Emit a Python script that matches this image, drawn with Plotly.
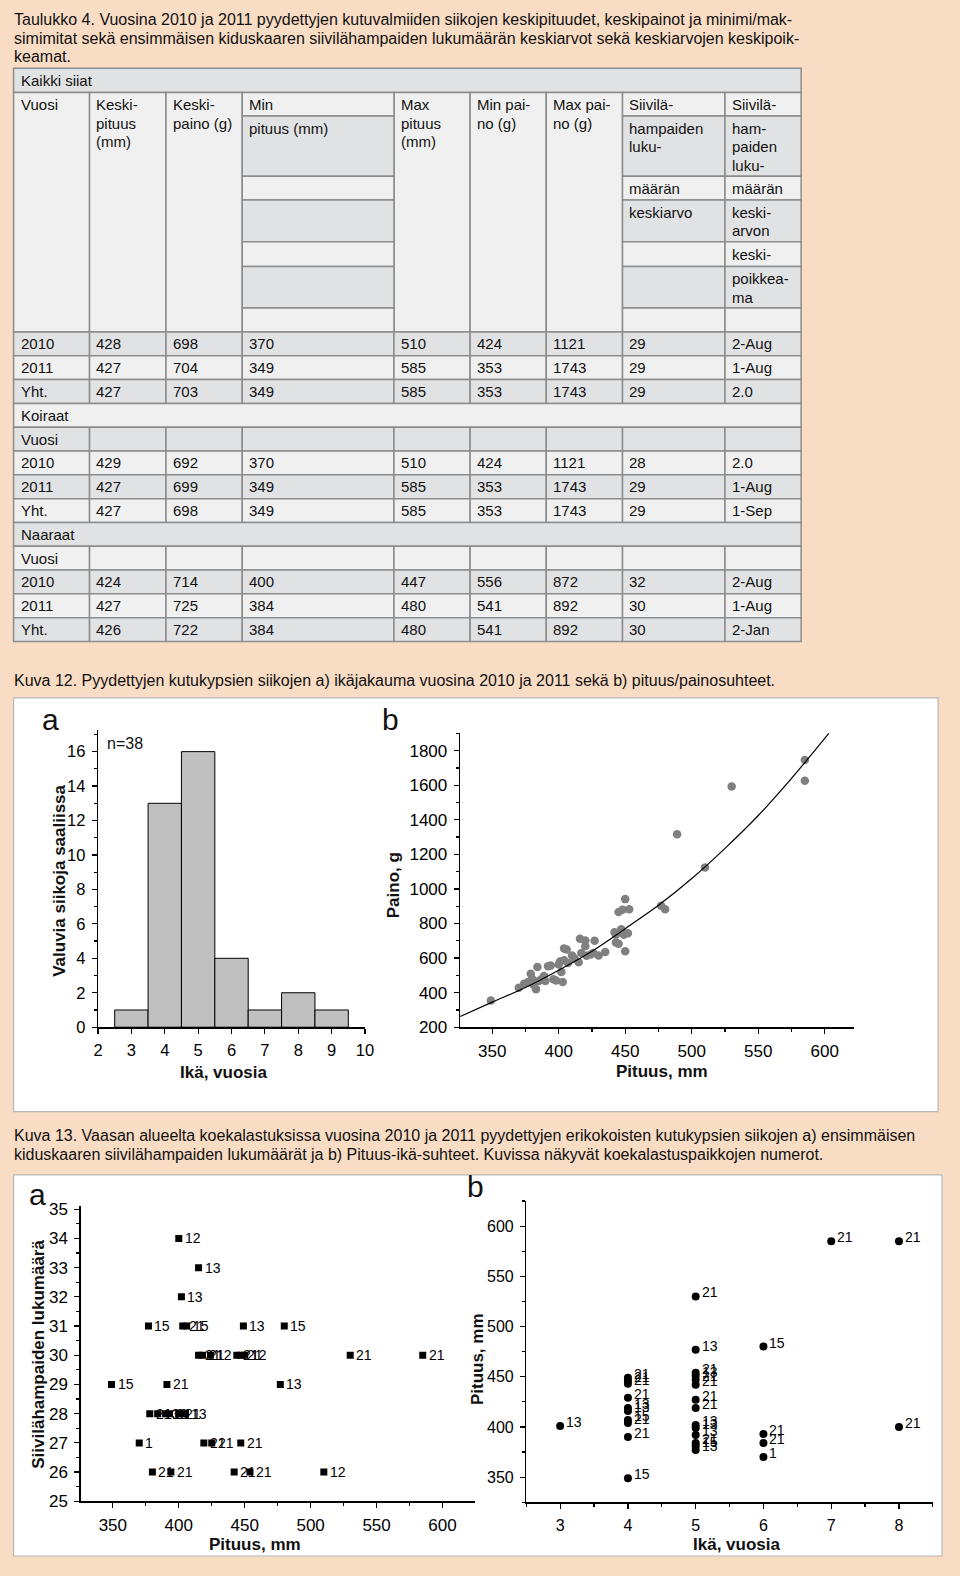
import plotly.graph_objects as go

PAGE_W, PAGE_H = 960, 1576
OFF = 8  # default body margin of the page
W, H = PAGE_W - 2 * OFF, PAGE_H - 2 * OFF
BG = "#f9dcc4"
FONT = "Liberation Sans, Arial, Helvetica, sans-serif"
TXT = "#111111"

# ---------------- data ----------------
caption_table = [
    "Taulukko 4. Vuosina 2010 ja 2011 pyydettyjen kutuvalmiiden siikojen keskipituudet, keskipainot ja minimi/mak-",
    "simimitat sekä ensimmäisen kiduskaaren siivilähampaiden lukumäärän keskiarvot sekä keskiarvojen keskipoik-",
    "keamat.",
]
caption_fig12 = ["Kuva 12. Pyydettyjen kutukypsien siikojen a) ikäjakauma vuosina 2010 ja 2011 sekä b) pituus/painosuhteet."]
caption_fig13 = [
    "Kuva 13. Vaasan alueelta koekalastuksissa vuosina 2010 ja 2011 pyydettyjen erikokoisten kutukypsien siikojen a) ensimmäisen",
    "kiduskaaren siivilähampaiden lukumäärät ja b) Pituus-ikä-suhteet. Kuvissa näkyvät koekalastuspaikkojen numerot.",
]

group_titles = ["Kaikki siiat", "Koiraat", "Naaraat"]
hdr_vuosi = ["Vuosi"]
hdr_keskipituus = ["Keski-", "pituus", "(mm)"]
hdr_keskipaino = ["Keski-", "paino (g)"]
hdr_min = [["Min"], ["pituus (mm)"], [], [], [], [], []]
hdr_max = ["Max", "pituus", "(mm)"]
hdr_minpaino = ["Min pai-", "no (g)"]
hdr_maxpaino = ["Max pai-", "no (g)"]
hdr_siivila1 = [["Siivilä-"], ["hampaiden", "luku-"], ["määrän"], ["keskiarvo"], [], [], []]
hdr_siivila2 = [["Siivilä-"], ["ham-", "paiden", "luku-"], ["määrän"], ["keski-", "arvon"], ["keski-"], ["poikkea-", "ma"], []]

kaikki_rows = [
    ["2010", "428", "698", "370", "510", "424", "1121", "29", "2-Aug"],
    ["2011", "427", "704", "349", "585", "353", "1743", "29", "1-Aug"],
    ["Yht.", "427", "703", "349", "585", "353", "1743", "29", "2.0"],
]
koiraat_rows = [
    ["2010", "429", "692", "370", "510", "424", "1121", "28", "2.0"],
    ["2011", "427", "699", "349", "585", "353", "1743", "29", "1-Aug"],
    ["Yht.", "427", "698", "349", "585", "353", "1743", "29", "1-Sep"],
]
naaraat_rows = [
    ["2010", "424", "714", "400", "447", "556", "872", "32", "2-Aug"],
    ["2011", "427", "725", "384", "480", "541", "892", "30", "1-Aug"],
    ["Yht.", "426", "722", "384", "480", "541", "892", "30", "2-Jan"],
]

# Kuva 12 a: age distribution
ika_12a = [3, 4, 5, 6, 7, 8, 9]
lkm_12a = [1, 13, 16, 4, 1, 2, 1]

# Kuva 12 b: length / weight
pituus_12b = [349, 370, 374, 377, 379, 380, 381, 383, 384, 385, 387, 389, 390, 392, 394, 396, 398,
              400, 401, 402, 403, 404, 404, 406, 407, 410, 412, 415, 416, 417, 420, 420, 421, 424,
              426, 427, 430, 435, 442, 443, 443, 445, 445, 447, 448, 449, 450, 450, 452, 453,
              477, 480, 489, 510, 530, 585, 585]
paino_12b = [355, 428, 452, 461, 509, 480, 446, 420, 548, 467, 477, 496, 467, 553, 557, 477, 470,
             563, 580, 519, 462, 588, 656, 649, 572, 615, 598, 576, 712, 630, 702, 668, 614, 620,
             629, 700, 615, 635, 750, 735, 690, 683, 866, 767, 880, 735, 941, 639, 744, 882,
             902, 882, 1317, 1124, 1592, 1746, 1626]
fit_x_12b = [326, 350, 375, 400, 425, 450, 475, 500, 525, 550, 575, 603]
fit_y_12b = [262, 345, 430, 530, 640, 770, 905, 1060, 1235, 1425, 1640, 1900]

# Kuva 13 a: length vs gill rakers, with site numbers
pituus_13a = [400, 415, 402,
              377, 403, 406, 449, 480,
              415, 418, 424, 444, 447, 450, 530, 585,
              349, 391, 477,
              378, 384, 390, 393, 400, 405,
              370, 419, 425, 447,
              380, 394, 442, 454, 510]
siivila_13a = [34, 33, 32,
               31, 31, 31, 31, 31,
               30, 30, 30, 30, 30, 30, 30, 30,
               29, 29, 29,
               28, 28, 28, 28, 28, 28,
               27, 27, 27, 27,
               26, 26, 26, 26, 26]
paikka_13a = ["12", "13", "13",
              "15", "21", "15", "13", "15",
              "21", "21", "12", "21", "21", "12", "21", "21",
              "15", "21", "13",
              "21", "13", "13", "21", "21", "13",
              "1", "21", "21", "21",
              "21", "21", "21", "21", "12"]

# Kuva 13 b: age vs length, with site numbers
ika_13b = [3,
           4, 4, 4, 4, 4, 4, 4, 4, 4, 4,
           5, 5, 5, 5, 5, 5, 5, 5, 5, 5, 5, 5, 5, 5,
           6, 6, 6, 6,
           7, 8, 8]
pituus_13b = [401,
              449, 446, 443, 429, 419, 416, 407, 404, 390, 349,
              530, 477, 454, 451, 447, 442, 427, 419, 402, 399, 392, 384, 381, 377,
              480, 393, 384, 370,
              585, 585, 400]
paikka_13b = ["13",
              "21", "21", "21", "21", "13", "13", "15", "21", "21", "15",
              "21", "13", "21", "13", "21", "21", "21", "21", "13", "13", "13", "21", "15", "13",
              "15", "21", "21", "1",
              "21", "21", "21"]

# ---------------- helpers (page pixels -> paper) ----------------
def X(p):
    return (p - OFF) / W


def Y(p):
    return 1 - (p - OFF) / H


shapes = []
annotations = []


def rect(x0, y0, x1, y1, fill, line="#8c8c8c", lw=1.5):
    shapes.append(dict(type="rect", xref="paper", yref="paper", x0=X(x0), x1=X(x1),
                       y0=Y(y1), y1=Y(y0), fillcolor=fill, line=dict(color=line, width=lw),
                       layer="below"))


def text(x, y, s, size=15, xanchor="left", angle=0, color=TXT, yanchor="middle"):
    annotations.append(dict(xref="paper", yref="paper", x=X(x), y=Y(y), text=s, showarrow=False,
                            xanchor=xanchor, yanchor=yanchor, textangle=angle,
                            font=dict(family=FONT, size=size, color=color)))


# ---------------- captions ----------------
for i, s in enumerate(caption_table):
    text(6.5, 14 + i * 18.3, s, 16)
text(6.5, 681, caption_fig12[0], 16)
for i, s in enumerate(caption_fig13):
    text(6.5, 1141 + i * 19, s, 16)

# ---------------- table ----------------
LIGHT = "#f0f0f0"
DARK = "#e1e2e4"
cx = [8.6, 85.7, 163.3, 240.7, 394.7, 472, 549.3, 626.7, 730.7, 808]
PAD = 5
TOP, HDR_TOP, HDR_BOT = 62.7, 87.3, 329.3
sub_y = [87.3, 111, 172, 196, 238, 263, 305, 329.3]
RH = 24.05
LS = 18.6

# group title row
rect(cx[0], TOP, cx[-1], HDR_TOP, DARK)
text(cx[0] + PAD, (TOP + HDR_TOP) / 2, group_titles[0])

# header block
full_cols = {0: hdr_vuosi, 1: hdr_keskipituus, 2: hdr_keskipaino, 4: hdr_max, 5: hdr_minpaino, 6: hdr_maxpaino}
for ci, lines in full_cols.items():
    rect(cx[ci], HDR_TOP, cx[ci + 1], HDR_BOT, LIGHT)
    for li, s in enumerate(lines):
        text(cx[ci] + PAD, HDR_TOP + 12.3 + li * LS, s)
sub_cols = {3: hdr_min, 7: hdr_siivila1, 8: hdr_siivila2}
for ci, cells in sub_cols.items():
    for si, lines in enumerate(cells):
        rect(cx[ci], sub_y[si], cx[ci + 1], sub_y[si + 1], LIGHT if si % 2 == 0 else DARK)
        for li, s in enumerate(lines):
            yc = (sub_y[si] + sub_y[si + 1]) / 2 if si in (0, 2) else sub_y[si] + 12.5 + li * LS
            text(cx[ci] + PAD, yc, s)

# body rows
body = []
for r in kaikki_rows:
    body.append(("row", r))
body.append(("title", group_titles[1]))
body.append(("row", [hdr_vuosi[0]] + [""] * 8))
for r in koiraat_rows:
    body.append(("row", r))
body.append(("title", group_titles[2]))
body.append(("row", [hdr_vuosi[0]] + [""] * 8))
for r in naaraat_rows:
    body.append(("row", r))

for i, (kind, content) in enumerate(body):
    y0 = HDR_BOT + i * RH
    y1 = y0 + RH
    fill = DARK if i % 2 == 0 else LIGHT
    if kind == "title":
        rect(cx[0], y0, cx[-1], y1, fill)
        text(cx[0] + PAD, (y0 + y1) / 2, content)
    else:
        for ci in range(9):
            rect(cx[ci], y0, cx[ci + 1], y1, fill)
            if content[ci]:
                text(cx[ci] + PAD, (y0 + y1) / 2, content[ci])

# ---------------- figure boxes ----------------
rect(8.6, 699, 947, 1117, "white", line="#b8b8b8", lw=1.2)
rect(8.6, 1181, 951, 1566, "white", line="#b8b8b8", lw=1.2)

# panel letters / notes
text(46, 721, "a", 30, xanchor="center")
text(391, 721, "b", 30, xanchor="center")
text(33, 1201, "a", 30, xanchor="center")
text(477, 1193, "b", 30, xanchor="center")
text(101, 745, "n=38", 16)

# axis titles
text(54.5, 884, "<b>Valuvia siikoja saaliissa</b>", 17, xanchor="center", angle=-90)
text(222, 1077, "<b>Ikä, vuosia</b>", 17, xanchor="center")
text(395, 888, "<b>Paino, g</b>", 17, xanchor="center", angle=-90)
text(667, 1076, "<b>Pituus, mm</b>", 17, xanchor="center")
text(33, 1362, "<b>Siivilähampaiden lukumäärä</b>", 17, xanchor="center", angle=-90)
text(254, 1554, "<b>Pituus, mm</b>", 17, xanchor="center")
text(479, 1367, "<b>Pituus, mm</b>", 17, xanchor="center", angle=-90)
text(742, 1554, "<b>Ikä, vuosia</b>", 17, xanchor="center")

# ---------------- traces ----------------
fig = go.Figure()
fig.add_trace(go.Bar(x=ika_12a, y=lkm_12a, width=1, marker=dict(color="#c0c0c0", line=dict(color="black", width=1)),
                     xaxis="x", yaxis="y", showlegend=False))
fig.add_trace(go.Scatter(x=pituus_12b, y=paino_12b, mode="markers",
                         marker=dict(color="#808080", size=8.5, line=dict(width=0)),
                         xaxis="x2", yaxis="y2", showlegend=False))
fig.add_trace(go.Scatter(x=fit_x_12b, y=fit_y_12b, mode="lines", line=dict(color="black", width=1.2, shape="spline"),
                         xaxis="x2", yaxis="y2", showlegend=False))
fig.add_trace(go.Scatter(x=pituus_13a, y=siivila_13a, mode="markers",
                         marker=dict(color="black", size=7, symbol="square", line=dict(width=0)),
                         xaxis="x3", yaxis="y3", showlegend=False))
fig.add_trace(go.Scatter(x=ika_13b, y=pituus_13b, mode="markers",
                         marker=dict(color="black", size=8, line=dict(width=0)),
                         xaxis="x4", yaxis="y4", showlegend=False))

for xv, yv, s in zip(pituus_13a, siivila_13a, paikka_13a):
    annotations.append(dict(xref="x3", yref="y3", x=xv, y=yv, text=s, showarrow=False, xanchor="left",
                            yanchor="middle", xshift=4, font=dict(family=FONT, size=14, color="black")))
for xv, yv, s in zip(ika_13b, pituus_13b, paikka_13b):
    annotations.append(dict(xref="x4", yref="y4", x=xv, y=yv, text=s, showarrow=False, xanchor="left",
                            yanchor="middle", xshift=4, yshift=4, font=dict(family=FONT, size=14, color="black")))


def axis(dom, rng, dtick, anchor, minor=None, tick0=None, size=17):
    d = dict(domain=dom, range=rng, dtick=dtick, anchor=anchor, showline=True, linecolor="black", linewidth=1.3,
             ticks="outside", ticklen=5, tickwidth=1.2, tickcolor="black", showgrid=False, zeroline=False,
             tickfont=dict(family=FONT, size=size, color="black"), ticklabelstandoff=3, fixedrange=True)
    if tick0 is not None:
        d["tick0"] = tick0
    if minor is not None:
        d["minor"] = dict(dtick=minor, ticklen=3, tickwidth=1.2, tickcolor="black", ticks="outside", showgrid=False)
    return d


fig.update_layout(
    width=W, height=H, autosize=False,
    margin=dict(l=0, r=0, t=0, b=0, pad=0),
    paper_bgcolor=BG, plot_bgcolor="rgba(0,0,0,0)",
    showlegend=False, bargap=0,
    shapes=shapes, annotations=annotations,
    xaxis=axis([X(94.3), X(365.3)], [2, 10], 1, "y", tick0=2, size=16.5),
    yaxis=axis([Y(1031.7), Y(731.7)], [0, 17.24], 2, "x", minor=1, tick0=0, size=16.5),
    xaxis2=axis([X(461.7), X(862)], [325.8, 622.2], 50, "y2", minor=25, tick0=350),
    yaxis2=axis([Y(1031.7), Y(734.3)], [200, 1903], 200, "x2", minor=100, tick0=200),
    xaxis3=axis([X(76.7), X(477.3)], [325.6, 624.9], 50, "y3", minor=25, tick0=350),
    yaxis3=axis([Y(1510.7), Y(1212.7)], [25, 35.1], 1, "x3", minor=0.5, tick0=25),
    xaxis4=axis([X(529), X(941.7)], [2.5, 8.5], 1, "y4", minor=0.5, tick0=3, size=16),
    yaxis4=axis([Y(1511.7), Y(1207.3)], [325, 625], 50, "x4", minor=25, tick0=350, size=16),
)

fig.write_html("out.html", config={"displayModeBar": False, "staticPlot": True},
               post_script="document.body.style.backgroundColor='%s';document.documentElement.style.backgroundColor='%s';" % (BG, BG))
